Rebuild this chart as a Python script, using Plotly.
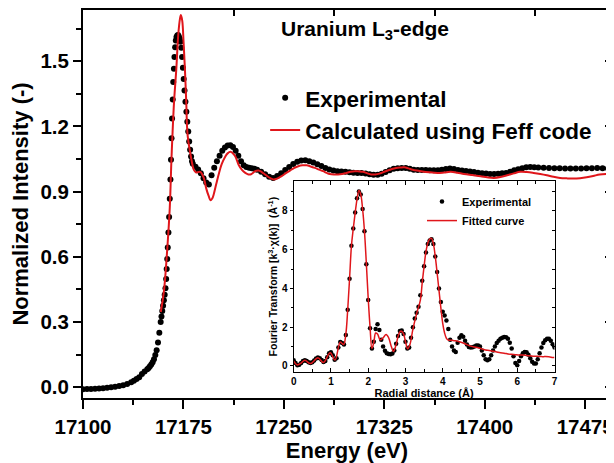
import plotly.graph_objects as go

FONT = "Liberation Sans"

# ---- main panel: U L3-edge XANES ----
energy_exp = [
    17100, 17103, 17106, 17109, 17112, 17115, 17118, 17121, 17124, 17127,
    17130, 17133, 17136, 17138, 17140, 17142, 17144, 17146, 17148, 17149,
    17150, 17151, 17152, 17153, 17154, 17155, 17156, 17157, 17158, 17158.6,
    17159.2, 17159.8, 17160.4, 17161.0, 17161.6, 17162.1, 17162.5, 17162.9, 17163.3, 17163.8,
    17164.3, 17164.8, 17165.3, 17165.7, 17166.1, 17166.5, 17167.0, 17167.4, 17167.9, 17168.3,
    17168.8, 17169.3, 17169.8, 17170.4, 17171.0, 17171.6, 17172.2, 17172.8, 17173.4, 17174.0,
    17174.6, 17175.2, 17175.8, 17176.5, 17177.2, 17177.9, 17178.6, 17179.3, 17180.0, 17180.7,
    17181.4, 17182, 17184, 17186, 17188, 17190, 17192, 17194, 17196, 17198,
    17200, 17202, 17204, 17206, 17208, 17210, 17212, 17214, 17216, 17218,
    17220, 17222, 17224, 17226, 17228, 17230, 17233, 17236, 17239, 17242,
    17245, 17248, 17251, 17254, 17257, 17260, 17263, 17266, 17269, 17272,
    17275, 17278, 17281, 17284, 17287, 17290, 17293, 17296, 17299, 17302,
    17305, 17308, 17311, 17314, 17317, 17320, 17323, 17326, 17329, 17332,
    17335, 17338, 17341, 17344, 17347, 17350, 17353, 17356, 17359, 17362,
    17365, 17368, 17371, 17374, 17377, 17380, 17383, 17386, 17389, 17392,
    17395, 17398, 17401, 17404, 17407, 17410, 17413, 17416, 17419, 17422,
    17425, 17428, 17431, 17434, 17437, 17440, 17444, 17448, 17452, 17456,
    17460, 17464, 17468, 17472, 17476, 17480, 17484, 17488, 17492,
]
intensity_exp = [
    -0.010, -0.009, -0.008, -0.007, -0.006, -0.005, -0.003, -0.001, 0.002, 0.005,
    0.009, 0.014, 0.022, 0.029, 0.037, 0.045, 0.060, 0.072, 0.082, 0.088,
    0.096, 0.104, 0.114, 0.128, 0.148, 0.170, 0.205, 0.250, 0.300, 0.325,
    0.350, 0.375, 0.400, 0.425, 0.455, 0.498, 0.544, 0.590, 0.643, 0.712,
    0.783, 0.867, 0.956, 1.047, 1.146, 1.237, 1.324, 1.405, 1.466, 1.520,
    1.565, 1.596, 1.612, 1.619, 1.621, 1.614, 1.604, 1.590, 1.562, 1.520,
    1.470, 1.418, 1.365, 1.314, 1.268, 1.222, 1.177, 1.131, 1.093, 1.062,
    1.040, 1.028, 1.014, 1.002, 0.984, 0.962, 0.942, 0.933, 0.975, 1.010,
    1.040, 1.065, 1.088, 1.103, 1.112, 1.113, 1.105, 1.088, 1.065, 1.040,
    1.021, 1.013, 1.010, 1.008, 1.005, 1.001, 0.991, 0.980, 0.968, 0.963,
    0.972, 0.985, 1.000, 1.013, 1.027, 1.037, 1.043, 1.044, 1.040, 1.034,
    1.026, 1.018, 1.009, 1.002, 0.997, 0.994, 0.993, 0.991, 0.989, 0.987,
    0.986, 0.986, 0.983, 0.980, 0.978, 0.978, 0.982, 0.990, 0.998, 1.005,
    1.008, 1.009, 1.009, 1.005, 1.001, 0.999, 1.000, 0.999, 0.998, 0.998,
    0.998, 1.001, 1.004, 1.006, 1.004, 1.000, 0.997, 0.995, 0.993, 0.990,
    0.987, 0.985, 0.983, 0.981, 0.981, 0.982, 0.984, 0.986, 0.992, 0.998,
    1.003, 1.008, 1.012, 1.013, 1.012, 1.011, 1.010, 1.009, 1.008, 1.007,
    1.006, 1.006, 1.006, 1.006, 1.007, 1.008, 1.009, 1.008, 1.006,
]

energy_calc = [
    17158.1, 17160.5, 17163.0, 17164.8, 17166.0, 17166.7, 17168.0, 17169.7, 17171.1, 17172.4,
    17173.1, 17174.1, 17175.1, 17176.1, 17177.1, 17178.1, 17180.6, 17182.8, 17184.5, 17186.0,
    17187.8, 17190.2, 17192.0, 17193.9, 17195.2, 17196.5, 17197.6, 17199.5, 17201.3, 17203.5,
    17206.3, 17208.0, 17210.1, 17212.0, 17213.8, 17216.2, 17218.7, 17221.2, 17223.5, 17225.5,
    17228.6, 17231.1, 17233.5, 17236.0, 17239.0, 17242.2, 17245.0, 17248.3, 17251.5, 17254.6,
    17257.5, 17260.8, 17264.0, 17266.9, 17270.0, 17273.2, 17276.3, 17279.3, 17282.0, 17284.3,
    17287.5, 17290.5, 17293.5, 17296.7, 17299.8, 17302.9, 17306.0, 17309.0, 17312.0, 17315.2,
    17318.3, 17321.4, 17324.5, 17327.6, 17330.7, 17333.8, 17337.0, 17340.0, 17343.0, 17346.2,
    17349.3, 17352.4, 17358.5, 17364.7, 17369.7, 17374.6, 17379.5, 17384.5, 17390.7, 17396.9,
    17401.8, 17406.8, 17411.8, 17416.7, 17421.7, 17426.6, 17431.5, 17436.5, 17441.5, 17446.4,
    17451.4, 17456.3, 17461.2, 17466.2, 17471.2, 17476.1, 17481.0, 17485.9, 17493.4,
]
intensity_calc = [
    0.346, 0.445, 0.643, 0.826, 1.040, 1.146, 1.314, 1.466, 1.619, 1.695,
    1.713, 1.687, 1.588, 1.466, 1.314, 1.161, 1.060, 1.000, 0.988, 0.990,
    0.990, 0.963, 0.915, 0.879, 0.860, 0.868, 0.887, 0.935, 0.979, 1.025,
    1.062, 1.076, 1.083, 1.076, 1.062, 1.024, 1.000, 0.986, 0.979, 0.980,
    0.994, 0.997, 0.990, 0.979, 0.965, 0.956, 0.960, 0.971, 0.985, 0.997,
    1.008, 1.017, 1.021, 1.021, 1.016, 1.009, 1.001, 0.994, 0.986, 0.981,
    0.979, 0.979, 0.981, 0.986, 0.991, 0.994, 0.993, 0.991, 0.985, 0.979,
    0.979, 0.983, 0.990, 0.997, 1.004, 1.009, 1.011, 1.012, 1.007, 1.001,
    0.997, 0.994, 0.989, 0.986, 0.988, 0.991, 0.987, 0.981, 0.976, 0.971,
    0.966, 0.963, 0.967, 0.975, 0.984, 0.991, 0.990, 0.986, 0.981, 0.975,
    0.968, 0.963, 0.961, 0.960, 0.962, 0.966, 0.972, 0.979, 0.981,
]

top_ticks = [17212.5, 17287.5, 17362.5, 17437.5]

# ---- inset: Fourier transform ----
r_exp = [
    0.00, 0.05, 0.10, 0.15, 0.20, 0.25, 0.30, 0.35, 0.40, 0.45,
    0.50, 0.55, 0.60, 0.65, 0.70, 0.75, 0.80, 0.85, 0.90, 0.95,
    1.00, 1.05, 1.10, 1.15, 1.20, 1.25, 1.30, 1.35, 1.40, 1.45,
    1.50, 1.55, 1.60, 1.65, 1.70, 1.75, 1.80, 1.85, 1.90, 1.95,
    2.00, 2.05, 2.10, 2.15, 2.20, 2.25, 2.30, 2.35, 2.40, 2.45,
    2.50, 2.55, 2.60, 2.65, 2.70, 2.75, 2.80, 2.85, 2.90, 2.95,
    3.00, 3.05, 3.10, 3.15, 3.20, 3.25, 3.30, 3.35, 3.40, 3.45,
    3.50, 3.55, 3.60, 3.65, 3.70, 3.75, 3.80, 3.85, 3.90, 3.95,
    4.00, 4.05, 4.10, 4.15, 4.20, 4.25, 4.30, 4.35, 4.40, 4.45,
    4.50, 4.55, 4.60, 4.65, 4.70, 4.75, 4.80, 4.85, 4.90, 4.95,
    5.00, 5.05, 5.10, 5.15, 5.20, 5.25, 5.30, 5.35, 5.40, 5.45,
    5.50, 5.55, 5.60, 5.65, 5.70, 5.75, 5.80, 5.85, 5.90, 5.95,
    6.00, 6.05, 6.10, 6.15, 6.20, 6.25, 6.30, 6.35, 6.40, 6.45,
    6.50, 6.55, 6.60, 6.65, 6.70, 6.75, 6.80, 6.85, 6.90, 6.95,
    7.00,
]
ft_exp = [
    0.29, 0.15, 0.04, 0.06, 0.15, 0.25, 0.29, 0.26, 0.19, 0.15,
    0.19, 0.28, 0.38, 0.43, 0.40, 0.30, 0.20, 0.25, 0.45, 0.66,
    0.70, 0.55, 0.32, 0.40, 0.95, 1.23, 1.18, 1.10, 1.60, 2.90,
    4.50, 6.20, 7.10, 7.92, 8.65, 9.00, 8.85, 8.10, 6.95, 5.25,
    3.40, 1.95, 0.90, 1.25, 1.90, 2.15, 1.85, 1.35, 1.00, 0.78,
    0.66, 0.62, 0.60, 0.64, 0.80, 1.15, 1.55, 1.80, 1.83, 1.65,
    1.25, 0.90, 0.95, 1.45, 2.00, 2.45, 2.75, 3.05, 3.65, 4.40,
    5.15, 5.85, 6.30, 6.48, 6.54, 6.30, 5.65, 4.85, 4.00, 3.30,
    2.80, 2.60, 2.35, 1.90, 1.35, 1.00, 0.80, 0.72, 1.20, 1.45,
    1.58, 1.50, 1.30, 1.10, 0.98, 0.95, 0.96, 1.00, 1.05, 1.06,
    1.00, 0.80, 0.55, 0.35, 0.29, 0.35, 0.55, 0.80, 1.00, 1.18,
    1.30, 1.40, 1.46, 1.49, 1.48, 1.40, 1.20, 0.90, 0.50, 0.15,
    0.03, 0.25, 0.50, 0.66, 0.72, 0.70, 0.58, 0.40, 0.22, 0.12,
    0.12, 0.35, 0.65, 0.95, 1.18, 1.32, 1.40, 1.40, 1.30, 1.12,
    0.95,
]

r_fit = [
    0.00, 0.10, 0.20, 0.30, 0.45, 0.65, 0.80, 0.98, 1.11, 1.25,
    1.34, 1.40, 1.45, 1.50, 1.55, 1.60, 1.65, 1.70, 1.75, 1.80,
    1.85, 1.90, 1.95, 2.00, 2.05, 2.10, 2.15, 2.20, 2.25, 2.32,
    2.40, 2.48, 2.55, 2.62, 2.68, 2.75, 2.82, 2.88, 2.95, 3.00,
    3.06, 3.12, 3.20, 3.30, 3.40, 3.45, 3.50, 3.55, 3.60, 3.65,
    3.70, 3.75, 3.80, 3.85, 3.90, 3.95, 4.00, 4.05, 4.10, 4.15,
    4.25, 4.35, 4.45, 4.55, 4.65, 4.75, 4.85, 4.95, 5.05, 5.15,
    5.25, 5.35, 5.45, 5.55, 5.65, 5.75, 5.85, 5.95, 6.05, 6.15,
    6.25, 6.35, 6.45, 6.55, 6.65, 6.75, 6.85, 6.95, 7.00,
]
ft_fit = [
    0.25, 0.05, 0.15, 0.29, 0.12, 0.42, 0.18, 0.68, 0.30, 1.23,
    1.10, 1.65, 2.90, 4.50, 6.20, 7.10, 7.90, 8.60, 9.05, 8.85,
    8.10, 6.95, 5.30, 3.50, 2.00, 0.90, 1.20, 1.70, 1.65, 1.35,
    1.45, 1.62, 1.45, 1.00, 0.75, 1.10, 1.65, 1.80, 1.65, 1.25,
    0.88, 1.10, 1.90, 2.70, 3.40, 4.30, 5.15, 5.90, 6.35, 6.55,
    6.58, 6.30, 5.65, 4.80, 3.90, 3.00, 2.20, 1.70, 1.42, 1.33,
    1.32, 1.30, 1.25, 1.18, 1.10, 1.02, 0.98, 0.94, 0.88, 0.82,
    0.80, 0.76, 0.72, 0.68, 0.66, 0.62, 0.60, 0.58, 0.56, 0.56,
    0.54, 0.52, 0.50, 0.50, 0.48, 0.48, 0.47, 0.44, 0.43,
]

fig = go.Figure()

fig.add_trace(go.Scatter(
    x=energy_exp, y=intensity_exp, mode="markers", name="Experimental",
    marker=dict(color="black", size=6),
))
fig.add_trace(go.Scatter(
    x=energy_calc, y=intensity_calc, mode="lines", name="Calculated using Feff code",
    line=dict(color="#e0161b", width=2, shape="spline"),
))
# empty trace so the top/right tick-only axes get drawn
fig.add_trace(go.Scatter(x=[], y=[], xaxis="x3", yaxis="y3", showlegend=False, hoverinfo="skip"))

fig.add_trace(go.Scatter(
    x=r_exp, y=ft_exp, mode="markers", name="Experimental", xaxis="x2", yaxis="y2",
    legend="legend2", marker=dict(color="black", size=4.5),
))
fig.add_trace(go.Scatter(
    x=r_fit, y=ft_fit, mode="lines", name="Fitted curve", xaxis="x2", yaxis="y2",
    legend="legend2", line=dict(color="#e0161b", width=1.5, shape="spline"),
))
fig.add_trace(go.Scatter(x=[], y=[], xaxis="x2", yaxis="y4", showlegend=False, hoverinfo="skip"))

bold = dict(family=FONT, color="black", weight=700)

# the page body adds an 8px offset, so the figure is drawn 8px smaller
fig.update_layout(
    width=606, height=455,
    margin=dict(l=75, r=0, t=0, b=65),
    paper_bgcolor="white", plot_bgcolor="white",
    font=dict(family=FONT, color="black", weight=700),
    xaxis=dict(
        range=[17100, 17494.3], tick0=17100, dtick=75, tickformat="d",
        ticks="outside", ticklen=9, tickwidth=1.5, tickcolor="black",
        minor=dict(ticks="outside", ticklen=5, tickwidth=1.5, dtick=37.5, tick0=17100, tickcolor="black"),
        showline=True, linewidth=2, linecolor="black", mirror=True,
        showgrid=False, zeroline=False,
        tickfont=dict(size=20.5, **bold),
        title=dict(text="Energy (eV)", font=dict(size=22, **bold), standoff=5),
    ),
    yaxis=dict(
        range=[-0.05, 1.736], tick0=0, dtick=0.3, tickformat=".1f",
        ticks="outside", ticklen=8, tickwidth=1.5, tickcolor="black",
        minor=dict(ticks="outside", ticklen=5, tickwidth=1.5, dtick=0.15, tick0=0, tickcolor="black"),
        showline=True, linewidth=2, linecolor="black", mirror=True,
        showgrid=False, zeroline=False,
        tickfont=dict(size=20.5, **bold),
        title=dict(text="Normalized Intensity (-)", font=dict(size=22, **bold), standoff=10),
    ),
    xaxis3=dict(
        overlaying="x", matches="x", side="top", anchor="y",
        tickmode="array", tickvals=top_ticks, ticks="inside", ticklen=6, tickwidth=1.5,
        tickcolor="black", showticklabels=False, showline=False, showgrid=False, zeroline=False,
    ),
    yaxis3=dict(
        overlaying="y", matches="y", side="right", anchor="x",
        tick0=0, dtick=0.3, ticks="inside", ticklen=6, tickwidth=1.5,
        tickcolor="black", showticklabels=False, showline=False, showgrid=False, zeroline=False,
    ),
    xaxis2=dict(
        domain=[0.399, 0.893], anchor="y2", range=[0, 7], tick0=0, dtick=1,
        ticks="inside", ticklen=4, tickwidth=1, tickcolor="black",
        minor=dict(ticks="inside", ticklen=3, dtick=0.5, tick0=0, tickcolor="black"),
        showline=True, linewidth=1, linecolor="black", mirror="ticks",
        showgrid=False, zeroline=False,
        tickfont=dict(size=10, **bold),
        title=dict(text="Radial distance (Å)", font=dict(size=11, **bold), standoff=0),
    ),
    yaxis2=dict(
        domain=[0.0667, 0.559], anchor="x2", range=[-0.32, 9.54], tick0=0, dtick=2,
        ticks="outside", ticklen=3, tickwidth=1, tickcolor="black",
        minor=dict(ticks="outside", ticklen=2, dtick=1, tick0=0, tickcolor="black"),
        showline=True, linewidth=1, linecolor="black", mirror=True,
        showgrid=False, zeroline=False,
        tickfont=dict(size=10, **bold),
        title=dict(text="Fourier Transform [k<sup>3</sup>·χ(k)]  (Å<sup>-1</sup>)",
                   font=dict(size=10.5, **bold), standoff=2),
    ),
    yaxis4=dict(
        overlaying="y2", matches="y2", side="right", anchor="x2",
        tick0=0, dtick=1, ticks="inside", ticklen=3, tickwidth=1,
        tickcolor="black", showticklabels=False, showline=False, showgrid=False, zeroline=False,
    ),
    legend=dict(
        x=0.345, y=0.828, xanchor="left", yanchor="top",
        bgcolor="rgba(0,0,0,0)", font=dict(size=22.5, **bold),
        tracegroupgap=0,
    ),
    legend2=dict(
        x=0.642, y=0.5436, xanchor="left", yanchor="top",
        bgcolor="rgba(0,0,0,0)", font=dict(size=11, **bold),
    ),
    annotations=[dict(
        text="Uranium L<sub>3</sub>-edge", x=0.535, y=0.949, xref="paper", yref="paper",
        xanchor="center", yanchor="middle", showarrow=False, font=dict(size=21, **bold),
    )],
)

fig.write_html("out.html")
